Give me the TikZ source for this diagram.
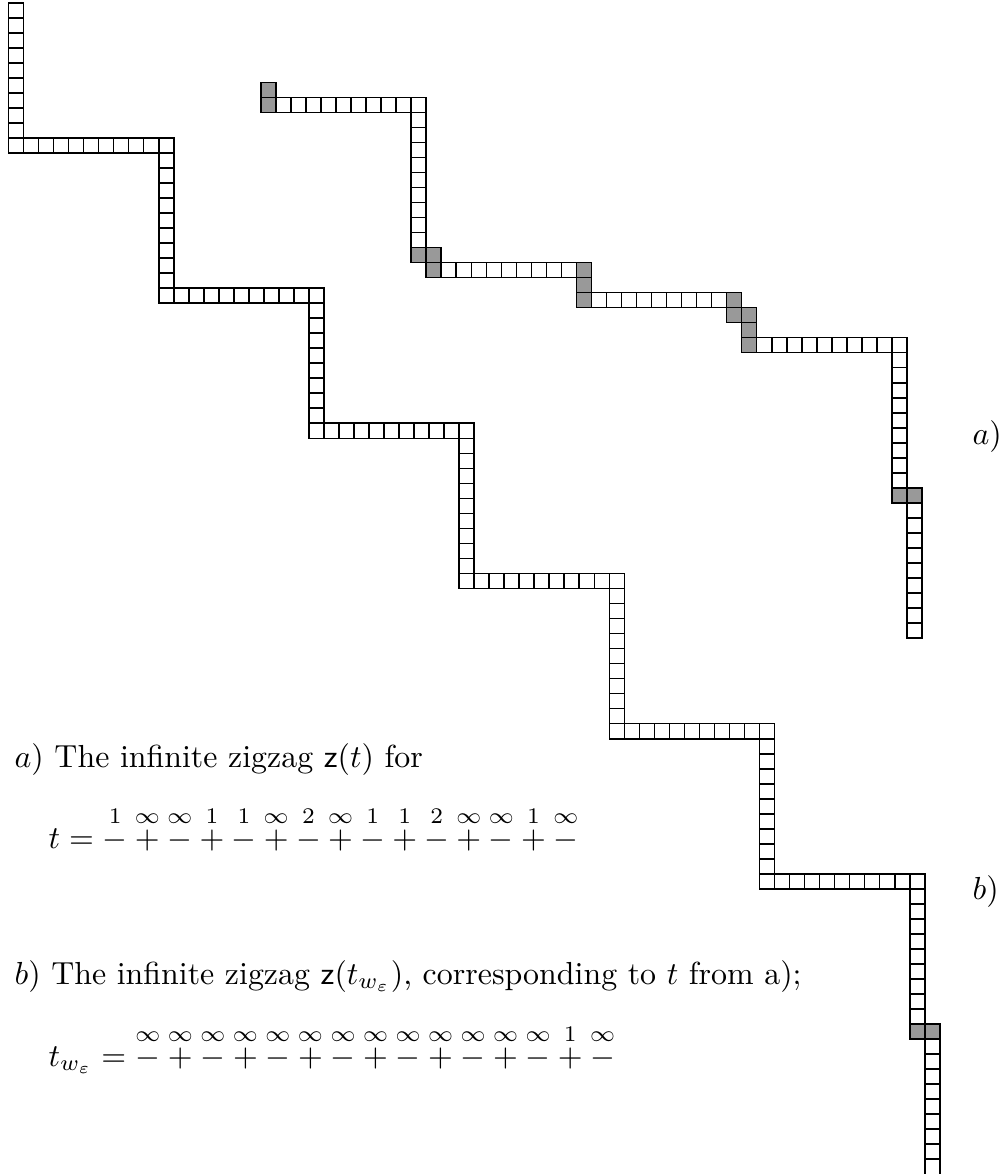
\documentclass[tikz,border=0pt]{standalone}
\usepackage{amsmath,amssymb}
\tikzset{
  cell/.style={
    draw,
    line width=0.5pt
  },
  graycell/.style={
    cell,
    fill=black!40
  },
  caption/.style={
    anchor=base west,
    inner sep=0pt
  }
}

\begin{document}
\begin{tikzpicture}[x=0.1655cm,y=-0.1655cm]
  \useasboundingbox (0,0) rectangle (66.91,78.16);
  % zigzag b)
  \begin{scope}[shift={(0.566,0.18)}]
    \foreach \col/\from/\to in {0/0/9,10/9/19,20/19/28,30/28/38,40/38/48,50/48/58,60/58/67,61/69/77}
      \foreach \j in {\from,...,\to}
        \draw[cell] (\col,\j) rectangle ++(1,1);
    \foreach \row/\from/\to in {9/0/10,19/10/20,28/20/30,38/30/40,48/40/50,58/50/60}
      \foreach \i in {\from,...,\to}
        \draw[cell] (\i,\row) rectangle ++(1,1);
    \foreach \i/\j in {60/68,61/68}
      \draw[graycell] (\i,\j) rectangle ++(1,1);
  \end{scope}
  % zigzag a)
  \begin{scope}[shift={(17.377,5.479)}]
    \foreach \col/\from/\to in {10/2/10,42/18/26,43/28/36}
      \foreach \j in {\from,...,\to}
        \draw[cell] (\col,\j) rectangle ++(1,1);
    \foreach \row/\from/\to in {1/1/10,12/12/20,14/22/30,17/33/42}
      \foreach \i in {\from,...,\to}
        \draw[cell] (\i,\row) rectangle ++(1,1);
    \foreach \i/\j in {0/0,0/1,10/11,11/11,11/12,21/12,21/13,21/14,31/14,31/15,32/15,32/16,32/17,42/27,43/27}
      \draw[graycell] (\i,\j) rectangle ++(1,1);
  \end{scope}
  % labels
  \node[caption] (la) at (64.71,29.56) {$a$)};
  \node[caption] (lb) at (64.71,59.9) {$b$)};
  \node[caption] (capa) at (0.93,51.07) {$a$) The infinite zigzag $\mathsf{z}(t)$ for};
  \node[caption] (ta) at (3.2,56.52) {$t=\overset{1}{-}\overset{\infty}{+}\overset{\infty}{-}\overset{1}{+}\overset{1}{-}\overset{\infty}{+}\overset{2}{-}\overset{\infty}{+}\overset{1}{-}\overset{1}{+}\overset{2}{-}\overset{\infty}{+}\overset{\infty}{-}\overset{1}{+}\overset{\infty}{-}$};
  \node[caption] (capb) at (0.93,65.51) {$b$) The infinite zigzag $\mathsf{z}(t_{w_\varepsilon})$, corresponding to $t$ from a);};
  \node[caption] (tb) at (3.2,70.97) {$t_{w_\varepsilon}=\overset{\infty}{-}\overset{\infty}{+}\overset{\infty}{-}\overset{\infty}{+}\overset{\infty}{-}\overset{\infty}{+}\overset{\infty}{-}\overset{\infty}{+}\overset{\infty}{-}\overset{\infty}{+}\overset{\infty}{-}\overset{\infty}{+}\overset{\infty}{-}\overset{1}{+}\overset{\infty}{-}$};
\end{tikzpicture}
\end{document}
